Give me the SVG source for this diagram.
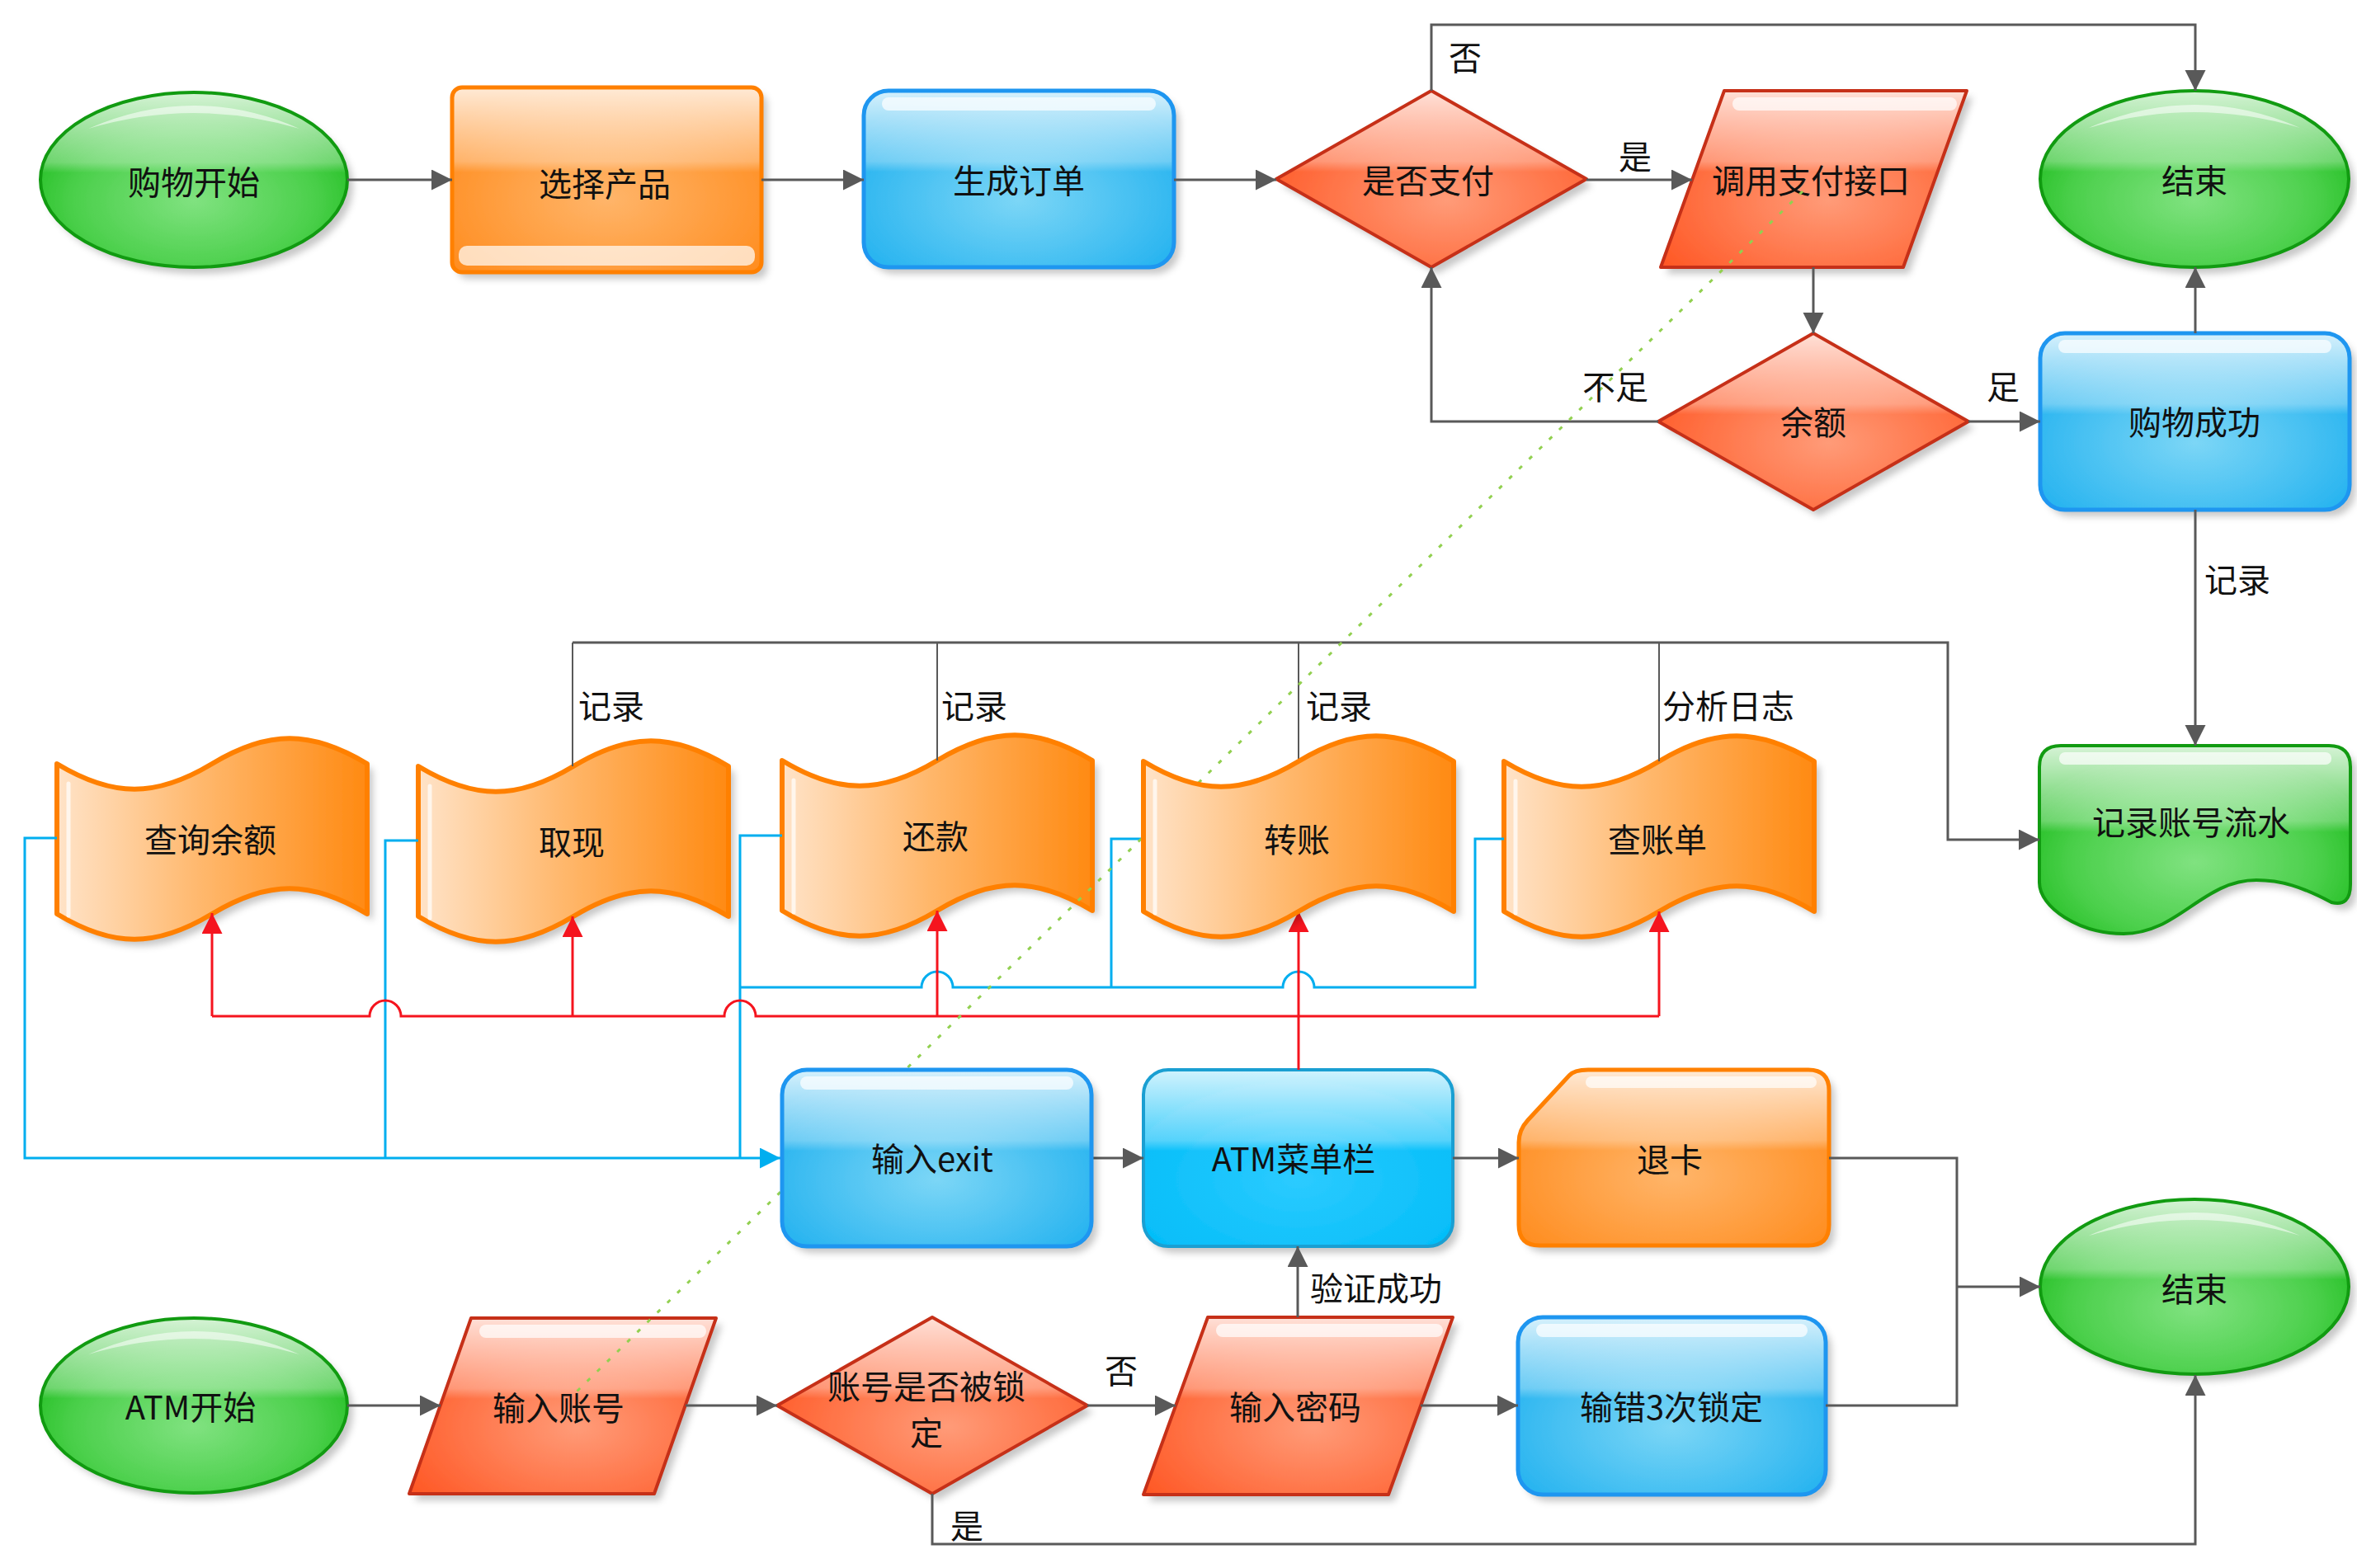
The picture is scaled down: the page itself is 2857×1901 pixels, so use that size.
<svg xmlns="http://www.w3.org/2000/svg" width="2857" height="1901" viewBox="0 0 2857 1901">
<defs>
<filter id="sh" x="-10%" y="-10%" width="125%" height="130%"><feDropShadow dx="7" dy="8" stdDeviation="4" flood-color="#000" flood-opacity="0.22"/></filter>
<radialGradient id="rGreen" cx="0.5" cy="0.62" r="0.6"><stop offset="0" stop-color="#80e280"/><stop offset="0.65" stop-color="#4cd04c"/><stop offset="1" stop-color="#1fbd1f"/></radialGradient>
<radialGradient id="rBlue" cx="0.5" cy="0.62" r="0.65"><stop offset="0" stop-color="#7cd6f6"/><stop offset="1" stop-color="#1eb0ef"/></radialGradient>
<radialGradient id="rCyan" cx="0.5" cy="0.62" r="0.65"><stop offset="0" stop-color="#2ccbff"/><stop offset="1" stop-color="#00bcf8"/></radialGradient>
<radialGradient id="rRed" cx="0.55" cy="0.62" r="0.65"><stop offset="0" stop-color="#ff9b78"/><stop offset="1" stop-color="#ff5825"/></radialGradient>
<radialGradient id="rOrange" cx="0.5" cy="0.6" r="0.65"><stop offset="0" stop-color="#ffb56a"/><stop offset="1" stop-color="#ff8b1c"/></radialGradient>
<linearGradient id="lTape" x1="0" y1="0" x2="1" y2="0"><stop offset="0" stop-color="#ffe3c8"/><stop offset="0.45" stop-color="#ffb96f"/><stop offset="1" stop-color="#ff8a12"/></linearGradient>
<linearGradient id="lGloss" x1="0" y1="0" x2="0" y2="1"><stop offset="0" stop-color="#fff" stop-opacity="0.82"/><stop offset="0.4" stop-color="#fff" stop-opacity="0.3"/><stop offset="0.46" stop-color="#fff" stop-opacity="0"/><stop offset="1" stop-color="#fff" stop-opacity="0"/></linearGradient>
<marker id="aG" markerUnits="userSpaceOnUse" markerWidth="26" markerHeight="26" refX="25" refY="12.5" orient="auto"><path d="M0,0 L25,12.5 L0,25 Z" fill="#595959"/></marker>
<marker id="aR" markerUnits="userSpaceOnUse" markerWidth="26" markerHeight="26" refX="25" refY="12.5" orient="auto"><path d="M0,0 L25,12.5 L0,25 Z" fill="#f5141e"/></marker>
<marker id="aB" markerUnits="userSpaceOnUse" markerWidth="26" markerHeight="26" refX="25" refY="12.5" orient="auto"><path d="M0,0 L25,12.5 L0,25 Z" fill="#00aeef"/></marker>
<path id="tape" d="M0,0 C68,41 120,41 188,0 C256,-41 308,-41 376,0 L376,182 C308,141 256,141 188,182 C120,223 68,223 0,182 Z"/>
</defs>
<style>
.gB{fill:url(#rGreen);filter:url(#sh)}
.gS{fill:url(#lGloss);stroke:#119b11;stroke-width:4}
.bB{fill:url(#rBlue);filter:url(#sh)}
.bS{fill:url(#lGloss);stroke:#1e96f0;stroke-width:5}
.cB{fill:url(#rCyan);filter:url(#sh)}
.cS{fill:url(#lGloss);stroke:#1a9fd2;stroke-width:4}
.rB{fill:url(#rRed);filter:url(#sh);stroke-linejoin:round}
.rS{fill:url(#lGloss);stroke:#c63018;stroke-width:4;stroke-linejoin:round}
.oB{fill:url(#rOrange);filter:url(#sh)}
.oS{fill:url(#lGloss);stroke:#ff8000;stroke-width:5;stroke-linejoin:round}
.tB{fill:url(#lTape);filter:url(#sh)}
.tS{fill:none;stroke:#ff8000;stroke-width:6;stroke-linejoin:round}
.bar{fill:#fff;opacity:0.7}
.hl{fill:#fff;opacity:0.55}
.strip{fill:none;stroke:#fff;stroke-width:5;stroke-linecap:round;opacity:0.7}
.t{font-family:"Noto Sans CJK SC","Noto Sans",sans-serif;font-size:40px;fill:#111;text-anchor:middle}
.l{font-family:"Noto Sans CJK SC","Noto Sans",sans-serif;font-size:40px;fill:#111}
.c{fill:none;stroke:#595959;stroke-width:3}
.ct{fill:none;stroke:#595959;stroke-width:2}
.ca{marker-end:url(#aG)}
.r{fill:none;stroke:#f5141e;stroke-width:3}
.ra{marker-end:url(#aR)}
.b{fill:none;stroke:#00aeef;stroke-width:3}
.ba{marker-end:url(#aB)}
.dot{fill:none;stroke:#92d050;stroke-width:3;stroke-dasharray:5 12}
</style>

<g id="nodes-a">
<g id="n-shop-start">
<ellipse class="gB" cx="235" cy="218" rx="186" ry="106"/>
<ellipse class="gS" cx="235" cy="218" rx="186" ry="106"/>
<path class="hl" d="M107,156 Q235,100 363,156 Q235,118 107,156 Z"/>
<text class="t" x="235" y="236">购物开始</text>
</g>
<g id="n-select">
<rect class="oB" x="548" y="106" width="375" height="224" rx="12"/>
<rect class="oS" x="548" y="106" width="375" height="224" rx="12" stroke="#e8862a"/>
<rect class="bar" x="556" y="298" width="359" height="24" rx="10" opacity="0.5"/>
<text class="t" x="733" y="238">选择产品</text>
</g>
<g id="n-order">
<rect class="bB" x="1047" y="110" width="376" height="214" rx="30"/>
<rect class="bS" x="1047" y="110" width="376" height="214" rx="30"/>
<rect class="bar" x="1069" y="118" width="332" height="16" rx="8"/>
<text class="t" x="1235" y="234">生成订单</text>
</g>
<g id="n-pay">
<path class="rB" d="M1735,110 L1923,217 L1735,324 L1547,217 Z"/>
<path class="rS" d="M1735,110 L1923,217 L1735,324 L1547,217 Z"/>
<text class="t" x="1731" y="234">是否支付</text>
</g>
<g id="n-api">
<path class="rB" d="M2090,110 L2384,110 L2307,324 L2013,324 Z"/>
<path class="rS" d="M2090,110 L2384,110 L2307,324 L2013,324 Z"/>
<rect class="bar" x="2100" y="118" width="272" height="16" rx="8"/>
<text class="t" x="2195" y="234">调用支付接口</text>
</g>
<g id="n-end1">
<ellipse class="gB" cx="2660" cy="217" rx="187" ry="107"/>
<ellipse class="gS" cx="2660" cy="217" rx="187" ry="107"/>
<path class="hl" d="M2532,155 Q2660,99 2788,155 Q2660,117 2532,155 Z"/>
<text class="t" x="2660" y="234">结束</text>
</g>
<g id="n-balance">
<path class="rB" d="M2198,404 L2386,511 L2198,618 L2010,511 Z"/>
<path class="rS" d="M2198,404 L2386,511 L2198,618 L2010,511 Z"/>
<text class="t" x="2198" y="527">余额</text>
</g>
<g id="n-success">
<rect class="bB" x="2473" y="404" width="375" height="214" rx="30"/>
<rect class="bS" x="2473" y="404" width="375" height="214" rx="30"/>
<rect class="bar" x="2495" y="412" width="331" height="16" rx="8"/>
<text class="t" x="2660" y="527">购物成功</text>
</g>
<g id="n-log">
<path class="gB" d="M2498,904 L2823,904 Q2849,904 2849,930 L2849,1072 Q2849,1100 2826,1094 C2790,1075 2765,1067 2735,1067 C2670,1067 2640,1132 2574,1132 C2520,1132 2472,1100 2472,1070 L2472,930 Q2472,904 2498,904 Z"/>
<path class="gS" d="M2498,904 L2823,904 Q2849,904 2849,930 L2849,1072 Q2849,1100 2826,1094 C2790,1075 2765,1067 2735,1067 C2670,1067 2640,1132 2574,1132 C2520,1132 2472,1100 2472,1070 L2472,930 Q2472,904 2498,904 Z"/>
<rect class="bar" x="2496" y="912" width="330" height="15" rx="7"/>
<text class="t" x="2656" y="1012">记录账号流水</text>
</g>
<g id="n-query">
<use href="#tape" class="tB" transform="translate(69,926)"/>
<use href="#tape" class="tS" transform="translate(69,926)"/>
<path class="strip" d="M83,950 V1110"/>
<text class="t" x="255" y="1033">查询余额</text>
</g>
<g id="n-withdraw">
<use href="#tape" class="tB" transform="translate(507,929)"/>
<use href="#tape" class="tS" transform="translate(507,929)"/>
<path class="strip" d="M521,953 V1113"/>
<text class="t" x="693" y="1036">取现</text>
</g>
<g id="n-repay">
<use href="#tape" class="tB" transform="translate(948,922)"/>
<use href="#tape" class="tS" transform="translate(948,922)"/>
<path class="strip" d="M962,946 V1106"/>
<text class="t" x="1134" y="1029">还款</text>
</g>
<g id="n-bill">
<use href="#tape" class="tB" transform="translate(1823,923)"/>
<use href="#tape" class="tS" transform="translate(1823,923)"/>
<path class="strip" d="M1837,947 V1107"/>
<text class="t" x="2009" y="1033">查账单</text>
</g>
<g id="n-menu">
<rect class="cB" x="1386" y="1297" width="375" height="214" rx="30"/>
<rect class="cS" x="1386" y="1297" width="375" height="214" rx="30"/>
<text class="t" x="1568" y="1420">ATM菜单栏</text>
</g>
<g id="n-card">
<path class="oB" d="M1841,1385 Q1841,1370 1852,1358 L1902,1304 Q1908,1297 1925,1297 L2192,1297 Q2217,1297 2217,1322 L2217,1485 Q2217,1510 2192,1510 L1866,1510 Q1841,1510 1841,1485 Z"/>
<path class="oS" d="M1841,1385 Q1841,1370 1852,1358 L1902,1304 Q1908,1297 1925,1297 L2192,1297 Q2217,1297 2217,1322 L2217,1485 Q2217,1510 2192,1510 L1866,1510 Q1841,1510 1841,1485 Z"/>
<rect class="bar" x="1922" y="1305" width="280" height="14" rx="7"/>
<text class="t" x="2024" y="1421">退卡</text>
</g>
<g id="n-end2">
<ellipse class="gB" cx="2660" cy="1560" rx="187" ry="106"/>
<ellipse class="gS" cx="2660" cy="1560" rx="187" ry="106"/>
<path class="hl" d="M2532,1498 Q2660,1442 2788,1498 Q2660,1460 2532,1498 Z"/>
<text class="t" x="2660" y="1578">结束</text>
</g>
<g id="n-atm-start">
<ellipse class="gB" cx="235" cy="1704" rx="186" ry="106"/>
<ellipse class="gS" cx="235" cy="1704" rx="186" ry="106"/>
<path class="hl" d="M107,1642 Q235,1586 363,1642 Q235,1604 107,1642 Z"/>
<text class="t" x="231" y="1721">ATM开始</text>
</g>
<g id="n-account">
<path class="rB" d="M571,1598 L868,1598 L793,1811 L496,1811 Z"/>
<path class="rS" d="M571,1598 L868,1598 L793,1811 L496,1811 Z"/>
<rect class="bar" x="581" y="1606" width="275" height="16" rx="8"/>
<text class="t" x="677" y="1722">输入账号</text>
</g>
<g id="n-locked">
<path class="rB" d="M1130,1597 L1318,1704 L1130,1811 L942,1704 Z"/>
<path class="rS" d="M1130,1597 L1318,1704 L1130,1811 L942,1704 Z"/>
<text class="t" x="1123" y="1696">账号是否被锁</text>
<text class="t" x="1123" y="1752">定</text>
</g>
<g id="n-password">
<path class="rB" d="M1464,1597 L1761,1597 L1683,1812 L1386,1812 Z"/>
<path class="rS" d="M1464,1597 L1761,1597 L1683,1812 L1386,1812 Z"/>
<rect class="bar" x="1474" y="1605" width="275" height="16" rx="8"/>
<text class="t" x="1570" y="1721">输入密码</text>
</g>
<g id="n-lock3">
<rect class="bB" x="1840" y="1597" width="373" height="215" rx="30"/>
<rect class="bS" x="1840" y="1597" width="373" height="215" rx="30"/>
<rect class="bar" x="1862" y="1605" width="329" height="16" rx="8"/>
<text class="t" x="2026" y="1721">输错3次锁定</text>
</g>
</g>

<g id="connectors">
<path class="c ca" d="M421,218 H548"/>
<path class="c ca" d="M923,218 H1047"/>
<path class="c ca" d="M1423,218 H1547"/>
<path class="c ca" d="M1923,218 H2051"/>
<path class="c ca" d="M1735,110 V30 H2661 V110"/>
<path class="c ca" d="M2198,324 V404"/>
<path class="c ca" d="M2010,511 H1735 V324"/>
<path class="c ca" d="M2386,511 H2473"/>
<path class="c ca" d="M2661,404 V324"/>
<path class="c ca" d="M2661,618 V904"/>
<path class="ct" d="M694,929 V779 M1136,922 V779 M1574,923 V779 M2011,923 V779"/>
<path class="c ca" d="M694,779 H2361 V1018 H2472"/>
<path class="c ca" d="M1323,1404 H1386"/>
<path class="c ca" d="M1761,1404 H1841"/>
<path class="c" d="M2217,1404 H2372 V1704 H2213"/>
<path class="c ca" d="M2372,1560 H2473"/>
<path class="c ca" d="M421,1704 H534"/>
<path class="c ca" d="M831,1704 H942"/>
<path class="c ca" d="M1318,1704 H1425"/>
<path class="c ca" d="M1573,1597 V1511"/>
<path class="c ca" d="M1722,1704 H1840"/>
<path class="c ca" d="M1130,1811 V1872 H2661 V1667"/>
<path class="b ba" d="M69,1016 H30 V1404 H946"/>
<path class="b" d="M507,1019 H467 V1404"/>
<path class="b" d="M948,1013 H897 V1404"/>
<path class="b" d="M1386,1017 H1347 V1197"/>
<path class="b" d="M1823,1017 H1788 V1197 H1593 A19,19 0 0 0 1555,1197 H1155 A19,19 0 0 0 1117,1197 H897"/>
<path class="r" d="M257,1232 H448 A19,19 0 0 1 486,1232 H878 A19,19 0 0 1 916,1232 H2011"/>
<path class="r ra" d="M257,1232 V1107"/>
<path class="r ra" d="M694,1232 V1111"/>
<path class="r ra" d="M1136,1232 V1104"/>
<path class="r ra" d="M1574,1297 V1105"/>
<path class="r ra" d="M2011,1232 V1105"/>
<path class="dot" d="M2185,232 L696,1690"/>
<text class="l" x="1756" y="85">否</text>
<text class="l" x="1962" y="205">是</text>
<text class="l" x="1918" y="484">不足</text>
<text class="l" x="2408" y="484">足</text>
<text class="l" x="2672" y="718">记录</text>
<text class="l" x="701" y="871">记录</text>
<text class="l" x="1141" y="871">记录</text>
<text class="l" x="1583" y="871">记录</text>
<text class="l" x="2015" y="871">分析日志</text>
<text class="l" x="1588" y="1577">验证成功</text>
<text class="l" x="1339" y="1677">否</text>
<text class="l" x="1152" y="1865">是</text>
</g>

<g id="nodes-b">
<g id="n-transfer">
<use href="#tape" class="tB" transform="translate(1386,923)"/>
<use href="#tape" class="tS" transform="translate(1386,923)"/>
<path class="strip" d="M1400,947 V1107"/>
<text class="t" x="1572" y="1033">转账</text>
</g>
<g id="n-exit">
<rect class="bB" x="948" y="1297" width="375" height="214" rx="30"/>
<rect class="bS" x="948" y="1297" width="375" height="214" rx="30"/>
<rect class="bar" x="970" y="1305" width="331" height="16" rx="8"/>
<text class="t" x="1130" y="1420">输入exit</text>
</g>
</g>
</svg>
